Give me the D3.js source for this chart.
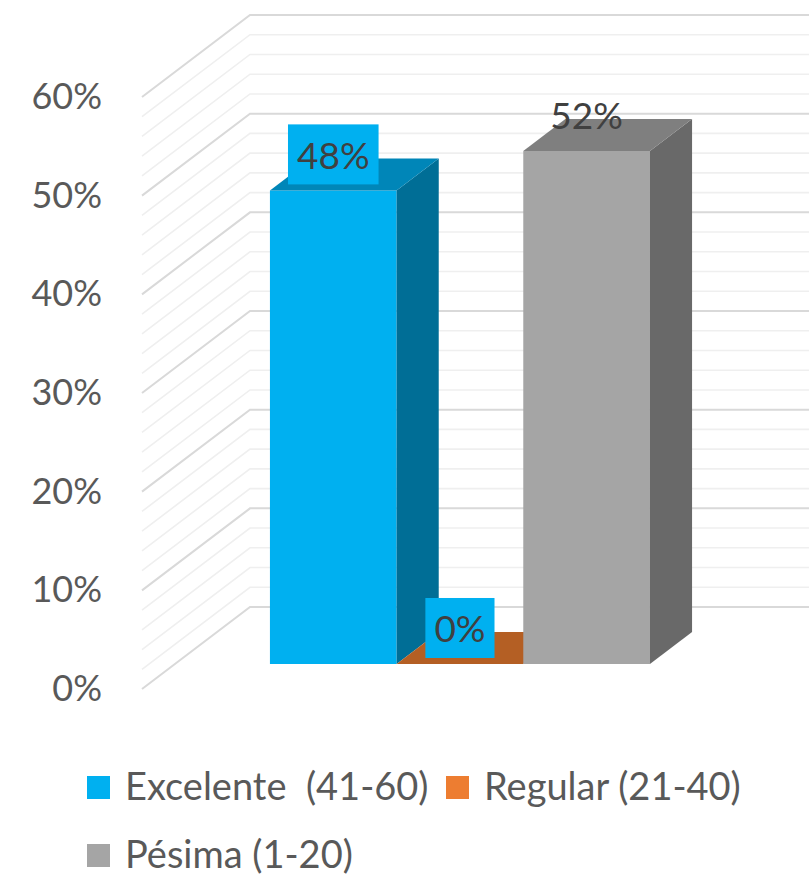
<!DOCTYPE html>
<html>
<head>
<meta charset="utf-8">
<script src="https://cdn.jsdelivr.net/npm/d3@7"></script>
<style>
  html, body { margin: 0; padding: 0; background: #ffffff; }
  svg { display: block; }
  text { font-family: Lato, "Open Sans", sans-serif; }
</style>
</head>
<body>
<svg id="chart" width="809" height="881"></svg>
<script>
// ---- data ----
const categories = ["Excelente  (41-60)", "Regular (21-40)", "Pésima (1-20)"];
const values = [0.48, 0.00, 0.52];
const dataLabels = ["48%", "0%", "52%"];
const yTickValues = [0, 0.1, 0.2, 0.3, 0.4, 0.5, 0.6];
const gridValues = [0, 0.02, 0.04, 0.06, 0.08, 0.1, 0.12, 0.14, 0.16, 0.18, 0.2,
  0.22, 0.24, 0.26, 0.28, 0.3, 0.32, 0.34, 0.36, 0.38, 0.4,
  0.42, 0.44, 0.46, 0.48, 0.5, 0.52, 0.54, 0.56, 0.58, 0.6];
const frontColors = ["#00B0F0", "#ED7D31", "#A5A5A5"];
const topColors = ["#0086B8", "#B45F24", "#7F7F7F"];
const sideColors = ["#006E96", "#9C4E1B", "#696969"];
const labelFills = ["#00B0F0", "#00B0F0", "none"];

// ---- layout ----
const svg = d3.select("#chart");
const DX = -108, DY = 82;           // depth offset for z = 1 (back wall -> front edge)
const zFront = 0.695, zBack = 0.305; // bar depth planes
const wallLeft = 250, wallRight = 809;

const y = d3.scaleLinear().domain([0, 0.6]).range([607, 15]);       // back wall plane
const yFront = d3.scaleLinear().domain([0, 0.6]).range([607 + DY, 15 + DY]); // front edge
const x = d3.scaleBand().domain(categories).range([345, 725]).padding(0);

const P = (xb, v, z) => [xb + DX * z, y(v) + DY * z];
const line = d3.line();

// ---- gridlines ----
const grid = svg.append("g");
gridValues.forEach(v => {
  const major = Math.abs(Math.round(v * 10) - v * 10) < 1e-6;
  const col = major ? "#D9D9D9" : "#EFEFEF";
  grid.append("path")
    .attr("d", line([[wallLeft + DX, y(v) + DY], [wallLeft, y(v)], [wallRight, y(v)]]))
    .attr("fill", "none")
    .attr("stroke", col)
    .attr("stroke-width", major ? 2 : 1.6);
});

// ---- axis ----
const axis = svg.append("g")
  .attr("transform", "translate(108,0)")
  .call(d3.axisLeft(yFront).tickValues(yTickValues).tickFormat(d3.format(".0%")).tickSize(0).tickPadding(6));
axis.select(".domain").remove();
axis.selectAll("text")
  .attr("font-family", "Lato, 'Open Sans', sans-serif")
  .attr("font-size", 36)
  .attr("fill", "#595959");

// ---- bars ----
const bars = svg.append("g");
categories.forEach((c, i) => {
  const x0 = x(c), x1 = x(c) + x.bandwidth(), v = values[i];
  const g = bars.append("g");
  g.append("path")
    .attr("d", line([P(x0, 0, zFront), P(x1, 0, zFront), P(x1, v, zFront), P(x0, v, zFront)]) + "Z")
    .attr("fill", frontColors[i]);
  g.append("path")
    .attr("d", line([P(x1, 0, zFront), P(x1, 0, zBack), P(x1, v, zBack), P(x1, v, zFront)]) + "Z")
    .attr("fill", sideColors[i]);
  g.append("path")
    .attr("d", line([P(x0, v, zFront), P(x1, v, zFront), P(x1, v, zBack), P(x0, v, zBack)]) + "Z")
    .attr("fill", topColors[i]);
});

// ---- data labels ----
const lab = svg.append("g");
categories.forEach((c, i) => {
  const cx = x(c) + x.bandwidth() / 2 + DX * zFront;
  const cy = y(values[i]) + DY * zFront - 36;
  const t = lab.append("text")
    .attr("x", cx).attr("y", cy)
    .attr("text-anchor", "middle")
    .attr("dominant-baseline", "central")
    .attr("font-size", 37)
    .attr("fill", "#404040")
    .text(dataLabels[i]);
  if (labelFills[i] !== "none") {
    const w = t.node().getComputedTextLength();
    lab.insert("rect", function() { return t.node(); })
      .attr("x", cx - w / 2 - 9).attr("y", cy - 30)
      .attr("width", w + 18).attr("height", 60)
      .attr("fill", labelFills[i]);
  }
});

// ---- legend ----
const legendPos = [[87, 776], [446, 776], [87, 844]];
const leg = svg.append("g");
categories.forEach((c, i) => {
  const [lx, ly] = legendPos[i];
  leg.append("rect").attr("x", lx).attr("y", ly).attr("width", 23).attr("height", 23)
    .attr("fill", frontColors[i]);
  leg.append("text")
    .attr("x", lx + 38).attr("y", ly + 24)
    .attr("font-size", 38)
    .attr("fill", "#595959")
    .attr("xml:space", "preserve")
    .style("white-space", "pre")
    .text(c);
});
</script>
</body>
</html>
